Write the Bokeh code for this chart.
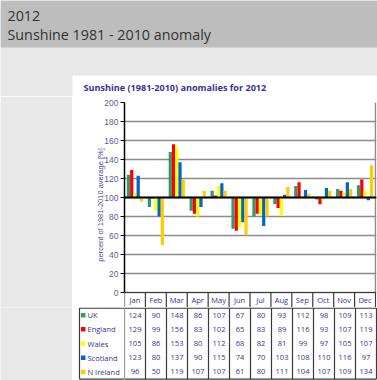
import numpy as np
from bokeh.plotting import figure
from bokeh.layouts import column, row
from bokeh.models import ColumnDataSource, Range1d, FixedTicker, Span
from bokeh.transform import dodge
from bokeh.core.properties import value
from bokeh.embed import file_html
from bokeh.resources import INLINE

# ---------------- data ----------------
months = ["Jan", "Feb", "Mar", "Apr", "May", "Jun", "Jul", "Aug", "Sep", "Oct", "Nov", "Dec"]
regions = ["UK", "England", "Wales", "Scotland", "N Ireland"]
uk = [124, 90, 148, 86, 107, 67, 80, 93, 112, 98, 109, 113]
england = [129, 99, 156, 83, 102, 65, 83, 89, 116, 93, 107, 119]
wales = [105, 86, 153, 80, 112, 68, 82, 81, 99, 97, 105, 107]
scotland = [123, 80, 137, 90, 115, 74, 70, 103, 108, 110, 116, 97]
n_ireland = [96, 50, 119, 107, 107, 61, 80, 111, 104, 107, 109, 134]
y_ticks = [0, 20, 40, 60, 80, 100, 120, 140, 160, 180, 200]
baseline = 100

series = [uk, england, wales, scotland, n_ireland]
colors = ["#339966", "#ff0000", "#ffff00", "#0066cc", "#ffcc00"]
TXT = "#333399"
GREY = "#e8e8e8"
FONT = "Open Sans"
LINE_C = "#3a3a3a"
GRID_C = "#8c8c8c"


def bare(fig):
    fig.axis.visible = False
    fig.grid.visible = False
    return fig


# ---------------- header (incl. chart title) ----------------
HDR_H = 96
hdr = bare(figure(width=377, height=HDR_H, x_range=Range1d(0, 377), y_range=Range1d(HDR_H, 0),
                  output_backend="svg", toolbar_location=None, min_border=0,
                  background_fill_color=GREY, border_fill_color=GREY, outline_line_color=None))
hdr.quad(left=[0], right=[377], top=[0], bottom=[47], fill_color="#bdbdbd", line_color=None)
hdr.quad(left=[72], right=[377], top=[75], bottom=[HDR_H], fill_color="white", line_color=None)
hdr.text(x=[7, 7], y=[15, 34], text=["2012", "Sunshine 1981 - 2010 anomaly"],
         text_font=value(FONT), text_font_size="14.3px", text_color="#333333",
         text_baseline="middle", text_align="left")
hdr.text(x=[83], y=[87], text=["Sunshine (1981-2010) anomalies for 2012"],
         text_font=value(FONT), text_font_size="9.1px", text_font_style="bold",
         text_color=TXT, text_baseline="middle", text_align="left")

# ---------------- chart (frame also holds the month header row) ----------------
PX_PER_UNIT = 190 / 200          # 0..200 spans 190 px
HEAD_ROW = 15                    # px
head_units = HEAD_ROW / PX_PER_UNIT
CH_H = 6 + 190 + HEAD_ROW
TB_H = 73
mi = np.arange(len(months))
centers = list(mi + 0.5)
src = ColumnDataSource(dict(xc=centers, month=months, uk=uk, england=england, wales=wales,
                            scotland=scotland, n_ireland=n_ireland))
p = figure(width=305, height=CH_H, x_range=Range1d(0, 12 + 1 / 21),
           y_range=Range1d(-head_units, 200), output_backend="svg", toolbar_location=None,
           min_border_left=52, min_border_right=1, min_border_top=6, min_border_bottom=0,
           x_axis_location=None, background_fill_color="white", border_fill_color="white",
           outline_line_color=None)
p.xgrid.visible = False
p.ygrid.ticker = FixedTicker(ticks=y_ticks)
p.ygrid.grid_line_color = GRID_C
p.ygrid.grid_line_width = 1.5

p.yaxis.ticker = FixedTicker(ticks=y_ticks)
p.yaxis.bounds = (0, 200)
p.yaxis.axis_line_color = "black"
p.yaxis.axis_line_width = 1.5
p.yaxis.major_tick_line_color = "black"
p.yaxis.major_tick_out = 4
p.yaxis.major_tick_in = 0
p.yaxis.minor_tick_line_color = None
p.yaxis.major_label_text_font = "Liberation Sans"
p.yaxis.major_label_text_font_size = "8.5px"
p.yaxis.major_label_text_color = "#5c5c99"
p.yaxis.major_label_standoff = 2
p.yaxis.axis_label = "percent of 1981-2010 average [%]"
p.yaxis.axis_label_text_font = "Liberation Sans"
p.yaxis.axis_label_text_font_size = "7.5px"
p.yaxis.axis_label_text_font_style = "normal"
p.yaxis.axis_label_text_color = "#4a4aa0"
p.yaxis.axis_label_standoff = -4

cols = ["uk", "england", "wales", "scotland", "n_ireland"]
w = 0.155
offsets = [-2 * w, -w, 0, w, 2 * w]
for c, col, off in zip(cols, colors, offsets):
    p.vbar(x=dodge("xc", off), width=w, bottom=baseline, top=c,
           source=src, fill_color=col, line_color=None)
p.add_layout(Span(location=baseline, dimension="width", line_color="black", line_width=2))

# plot-area right border
p.segment(x0=[12], y0=[0], x1=[12], y1=[200], line_color=GRID_C, line_width=1.5)
# month header row: separators, top line and labels
vx = list(range(len(months) + 1))
p.segment(x0=vx, y0=[0] * len(vx), x1=vx, y1=[-head_units] * len(vx), line_color=LINE_C, line_width=1.2)
p.segment(x0=[0], y0=[0], x1=[12], y1=[0], line_color=LINE_C, line_width=1.2)
p.text(x=centers, y=[-head_units / 2] * len(months), text=months, text_font=value(FONT),
       text_font_size="7.5px", text_color=TXT, text_align="center", text_baseline="middle")

# ---------------- table body ----------------
n_rows = len(regions)
row_h = 14.2
y_rng = (TB_H / row_h - 0.04, -0.04)

# legend column (52 px wide)
lg = bare(figure(width=52, height=TB_H, x_range=Range1d(0, 52), y_range=Range1d(*y_rng),
                 output_backend="svg", toolbar_location=None, min_border=0,
                 background_fill_color="white", border_fill_color="white", outline_line_color=None))
lg.segment(x0=[7, 7, 7], y0=[0, 0, n_rows], x1=[7, 52, 52], y1=[n_rows, 0, n_rows],
           line_color=LINE_C, line_width=1.2)
ry = [r + 0.5 for r in range(n_rows)]
lg.scatter(x=[10.7] * n_rows, y=ry, marker="square", size=4.5, fill_color=colors, line_color=None)
lg.text(x=[15] * n_rows, y=ry, text=regions, text_font=value(FONT), text_font_size="7.5px",
        text_color=TXT, text_align="left", text_baseline="middle")

# values (253 px wide, aligned with chart columns)
t = bare(figure(width=253, height=TB_H, x_range=Range1d(0, 12 + 1 / 21), y_range=Range1d(*y_rng),
                output_backend="svg", toolbar_location=None, min_border=0,
                background_fill_color="white", border_fill_color="white", outline_line_color=None))
t.segment(x0=vx, y0=[0] * len(vx), x1=vx, y1=[n_rows] * len(vx), line_color=LINE_C, line_width=1.2)
t.segment(x0=[0, 0], y0=[0, n_rows], x1=[12, 12], y1=[0, n_rows], line_color=LINE_C, line_width=1.2)
xs, ys, ts = [], [], []
for r, vals in enumerate(series):
    for i, v in enumerate(vals):
        xs.append(centers[i])
        ys.append(r + 0.5)
        ts.append(str(v))
t.text(x=xs, y=ys, text=ts, text_font=value(FONT), text_font_size="7.5px",
       text_color=TXT, text_align="center", text_baseline="middle")

# grey strips left of the white panel
left1 = bare(figure(width=72, height=CH_H, output_backend="svg", toolbar_location=None, min_border=0,
                    background_fill_color=GREY, border_fill_color=GREY, outline_line_color=None))
left2 = bare(figure(width=72, height=TB_H, output_backend="svg", toolbar_location=None, min_border=0,
                    background_fill_color=GREY, border_fill_color=GREY, outline_line_color=None))

layout = column(hdr, row(left1, p, spacing=0), row(left2, lg, t, spacing=0), spacing=0)
open("out.html", "w").write(file_html(layout, INLINE))
